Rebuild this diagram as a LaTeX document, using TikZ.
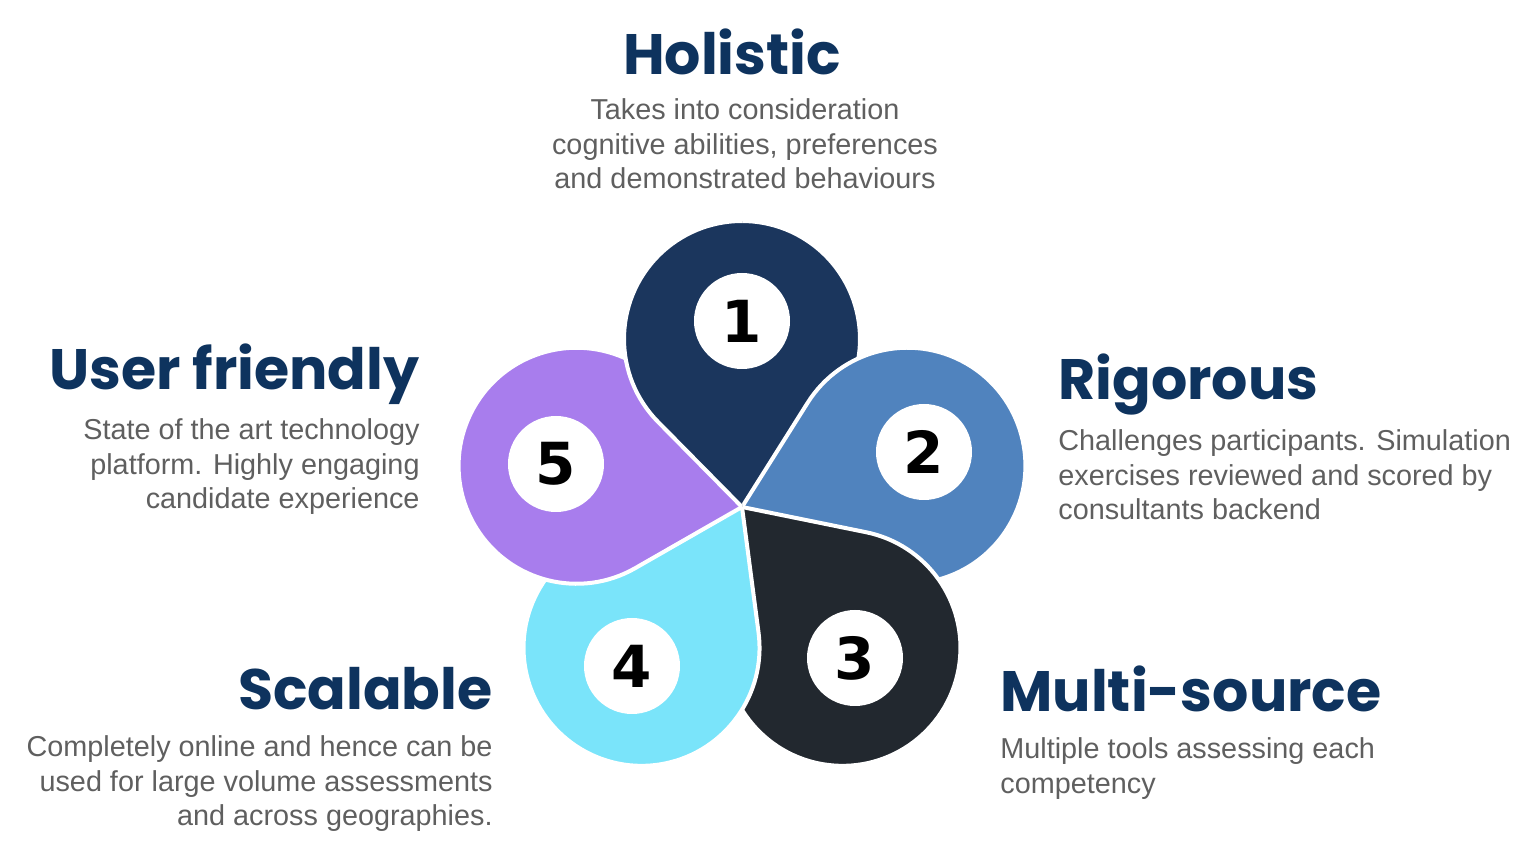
\documentclass[tikz,border=0pt]{standalone}
\usepackage{fontspec}
\setmainfont{Liberation Sans}
\newfontfamily\headfont{Poppins}
\newfontfamily\digitfont{DejaVu Sans}
\definecolor{petalone}{HTML}{1B365D}
\definecolor{petaltwo}{HTML}{5083BE}
\definecolor{petalthree}{HTML}{22282F}
\definecolor{petalfour}{HTML}{7AE4FA}
\definecolor{petalfive}{HTML}{A87DED}
\definecolor{headblue}{HTML}{0E335E}
\definecolor{blurbgray}{HTML}{5F5F5F}

\begin{document}
\begin{tikzpicture}[x=0.5pt,y=0.5pt,
    petal/.style={draw=white, line width=2pt, line join=round},
    head/.style={font=\headfont\bfseries\fontsize{28.5}{34}\selectfont, text=headblue, inner sep=0},
    blurb/.style={font=\fontsize{14.4}{17.4}\selectfont, text=blurbgray, inner sep=0},
    badge/.style={circle, fill=white, minimum size=48pt, inner sep=0,
        font=\digitfont\bfseries\fontsize{29}{30}\selectfont}]
	\useasboundingbox (-742,-354) rectangle (794,507);
	%\draw[step=100,black,very thin] (-742,-354) grid (794,507);
	% petals, hub at the origin
	\foreach \ang/\dist/\col in {90/168/petalone, 14/170.5/petaltwo, -54.5/173/petalthree,
	    -125.5/173/petalfour, 166/170.5/petalfive}{
		\pgfmathsetmacro\half{asin(118/\dist)}
		\pgfmathsetmacro\reach{\dist*cos(\half)}
		\filldraw[petal, fill=\col] (0,0) -- (\ang-\half:\reach)
		    arc[start angle=\ang-90-\half, end angle=\ang+90+\half, radius=118] -- cycle;
	}
	% petal 1 again, over petal 5
	\begin{scope}
		\clip (0,0) -- (0,420) -- (-420,420) -- (-420,0) -- cycle;
		\filldraw[petal, fill=petalone] (0,0) -- (45.38:119.6)
		    arc[start angle=-44.62, end angle=224.62, radius=118] -- cycle;
	\end{scope}
	% numbers
	\foreach \n/\x/\y in {1/0/186, 2/182/55, 3/113/-151, 4/-110/-159, 5/-186/43}
		\node[badge] (badge\n) at (\x,\y) {\n};
	% titles
	\node[head, anchor=base] (holistic) at (-10,432) {Holistic};
	\node[head, anchor=base east] (userfriendly) at (-322,117) {User friendly};
	\node[head, anchor=base west] (rigorous) at (316,107) {Rigorous};
	\node[head, anchor=base east] (scalable) at (-249,-203) {Scalable};
	\node[head, anchor=base west] (multisource) at (258,-205) {Multi-source};
	% descriptions
	\node[blurb, align=center, anchor=north] (holistictext) at (3,409)
	    {Takes into consideration\\cognitive abilities, preferences\\and demonstrated behaviours};
	\node[blurb, align=right, anchor=north east] (userfriendlytext) at (-322,89)
	    {State of the art technology\\platform. Highly engaging\\candidate experience};
	\node[blurb, align=left, anchor=north west] (rigoroustext) at (316,78)
	    {Challenges participants. Simulation\\exercises reviewed and scored by\\consultants backend};
	\node[blurb, align=right, anchor=north east] (scalabletext) at (-249,-228)
	    {Completely online and hence can be\\used for large volume assessments\\and across geographies.};
	\node[blurb, align=left, anchor=north west] (multisourcetext) at (258,-230)
	    {Multiple tools assessing each\\competency};
\end{tikzpicture}
\end{document}
